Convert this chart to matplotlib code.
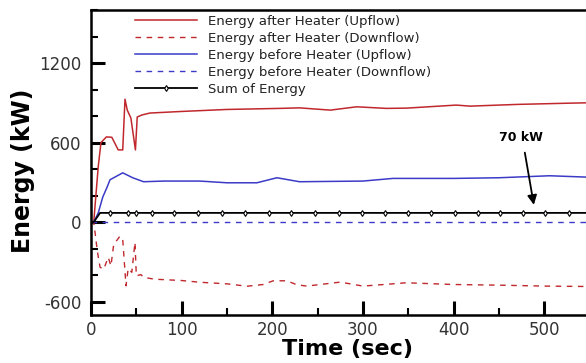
import matplotlib

matplotlib.use("Agg")
import matplotlib.pyplot as plt
from matplotlib.ticker import MultipleLocator

plt.rcParams["font.family"] = ["DejaVu Sans"]
plt.rcParams["axes.unicode_minus"] = False

# energy after heater, upflow (kW)
up_after_t = [0, 3, 8, 11, 17, 23, 30, 35, 37.5, 40, 44, 49, 51, 56, 65, 100, 150,
              208, 230, 264, 293, 326, 348, 403, 418, 470, 525, 546]
up_after_v = [0, 0, 420, 600, 643, 640, 545, 545, 927, 845, 785, 545, 793, 808, 823, 835,
              850, 858, 862, 845, 870, 858, 860, 883, 875, 888, 897, 900]

# energy after heater, downflow
dn_after_t = [0, 3, 5, 7, 10, 14, 19, 22, 25, 32, 35, 38.6, 41, 45, 48.5, 50, 55, 58, 70,
              100, 120, 150, 172, 190, 201, 216, 227, 238, 275, 300, 348, 400, 450, 500, 546]
dn_after_v = [0, 0, -107, -220, -340, -355, -265, -330, -170, -105, -130, -480, -350, -378,
              -153, -405, -395, -416, -430, -440, -453, -465, -483, -470, -442, -442, -472,
              -482, -452, -482, -457, -470, -475, -482, -485]

# energy before heater, upflow
up_before_t = [0, 3, 8, 13, 17.5, 21, 35, 46, 58, 80, 120, 150, 183, 205, 230, 300, 333,
               400, 450, 506, 546]
up_before_v = [0, 0, 70, 190, 260, 320, 372, 335, 305, 310, 310, 297, 297, 335, 305, 310,
               330, 330, 335, 350, 340]

# energy before heater, downflow
dn_before_t = [0, 546]
dn_before_v = [0, 0]

# sum of energy
sum_t = [0, 3, 10, 21, 41, 50, 67, 92, 118, 144, 170, 196, 221, 247, 273, 299, 324, 350,
         375, 401, 427, 451, 477, 501, 527, 546]
sum_v = [0, 0, 70, 70, 70, 70, 70, 70, 70, 70, 70, 70, 70, 70, 70, 70, 70, 70, 70, 70,
         70, 70, 70, 70, 70, 70]

labels = [
    "Energy after Heater (Upflow)",
    "Energy after Heater (Downflow)",
    "Energy before Heater (Upflow)",
    "Energy before Heater (Downflow)",
    "Sum of Energy",
]

RED = "#c0282d"
BLUE = "#3b3bc8"

fig = plt.figure(figsize=(5.86, 3.63), dpi=100)
ax = fig.add_axes([91 / 586, 48 / 363, 1 - 91 / 586, 305 / 363])

ax.plot(up_after_t, up_after_v, color=RED, lw=1.1, label=labels[0])
ax.plot(dn_after_t, dn_after_v, color=RED, lw=1.0, ls=(0, (4, 4)), label=labels[1])
ax.plot(up_before_t, up_before_v, color=BLUE, lw=1.1, label=labels[2])
ax.plot(dn_before_t, dn_before_v, color=BLUE, lw=1.0, ls=(0, (4, 4)), label=labels[3])
ax.plot(sum_t, sum_v, color="black", lw=1.3, marker="d", ms=3, mfc="white",
        mec="black", mew=0.8, markevery=slice(3, -1), label=labels[4])

ax.set_xlim(0, 546)
ax.set_ylim(-700, 1600)
ax.xaxis.set_major_locator(MultipleLocator(100))
ax.xaxis.set_minor_locator(MultipleLocator(50))
ax.yaxis.set_major_locator(MultipleLocator(600))
ax.yaxis.set_minor_locator(MultipleLocator(200))
ax.tick_params(which="major", direction="in", length=10, width=2.2, labelsize=12,
               labelcolor="#333333")
ax.tick_params(axis="y", which="major", pad=7)
ax.tick_params(axis="x", which="major", pad=4)
ax.tick_params(which="minor", direction="in", length=5, width=1.5)
ax.tick_params(top=False, right=False)
ax.spines["right"].set_visible(False)
for s in ("left", "bottom", "top"):
    ax.spines[s].set_linewidth(1.8)

ax.set_xlabel("Time (sec)", fontsize=16, fontweight="bold", labelpad=0)
ax.set_ylabel("Energy (kW)", fontsize=17, fontweight="bold", labelpad=3)
ax.xaxis.label.set_x(0.519)
ax.yaxis.label.set_y(0.472)

ax.annotate("", xy=(489, 110), xytext=(478, 545),
            arrowprops=dict(arrowstyle="-|>", color="black", lw=1.3, mutation_scale=14))
ax.text(474, 635, "70 kW", ha="center", va="center", fontsize=9, fontweight="bold")

ax.legend(loc="upper left", bbox_to_anchor=(135 / 586, 1 - 15 / 363),
          bbox_transform=fig.transFigure, frameon=False, fontsize=9.5, handlelength=4.7,
          handletextpad=0.8, labelspacing=0.3, borderpad=0, borderaxespad=0,
          labelcolor="#222222")

fig.savefig("out.png", dpi=100)
